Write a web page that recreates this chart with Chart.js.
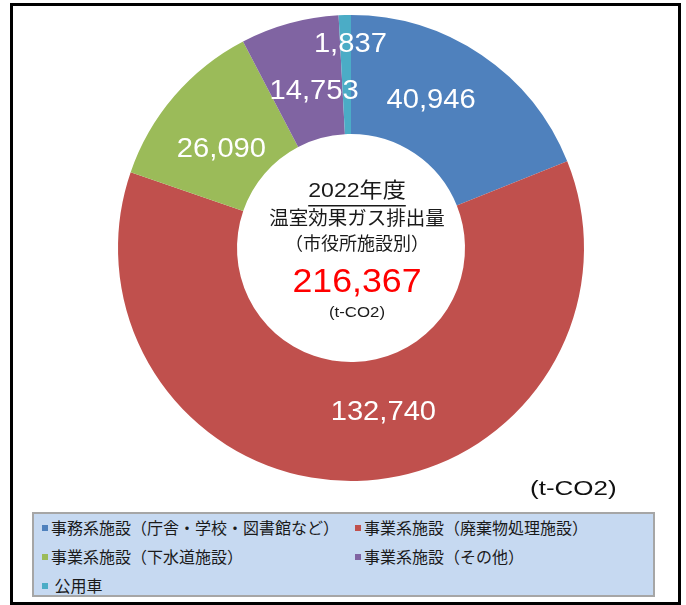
<!DOCTYPE html>
<html lang="ja">
<head>
<meta charset="utf-8">
<title>温室効果ガス排出量（市役所施設別）</title>
<script src="https://cdn.jsdelivr.net/npm/chart.js@4.4.1/dist/chart.umd.min.js"></script>
<style>
  html, body { margin: 0; padding: 0; background: #fff; }
  #wrap { position: relative; width: 686px; height: 605px; overflow: hidden; }
  #frame { position: absolute; left: 10px; top: 3px; width: 671px; height: 602px; border: 3px solid #000; box-sizing: border-box; }
  #chart { position: absolute; left: 0; top: 0; }
  #unit { position: absolute; left: 530px; top: 477px; font: 20px "Liberation Sans", sans-serif; color: #111; transform: scaleX(1.3); transform-origin: left center; }
  #legend { position: absolute; left: 32px; top: 512px; width: 623px; height: 85px; background: #c6d9f1; border: 2px solid #a6a6a6; box-sizing: border-box; }
  .item { position: absolute; font: 16px "Noto Sans CJK JP", sans-serif; color: #1a1a1a; white-space: nowrap; line-height: 20px; }
  .item i { display: inline-block; width: 6px; height: 6px; margin-right: 3px; vertical-align: 3px; }
</style>
</head>
<body>
<div id="wrap">
  <div id="frame"></div>
  <canvas id="chart" width="686" height="605"></canvas>
  <div id="unit">(t-CO2)</div>
  <div id="legend"></div>
</div>
<script>
// 施設区分
const KATEGORIE = [
  "事務系施設（庁舎・学校・図書館など）",
  "事業系施設（廃棄物処理施設）",
  "事業系施設（下水道施設）",
  "事業系施設（その他）",
  "公用車"
];
// 排出量 (t-CO2)
const HODNOTY = [40946, 132740, 26090, 14753, 1837];
const BARVY = ["#4f81bd", "#c0504d", "#9bbb59", "#8064a2", "#4bacc6"];

// text uprostred
const NADPIS = ["2022年度", "温室効果ガス排出量", "（市役所施設別）"];
const CELKEM = 216367;
const JEDNOTKA = "(t-CO2)";

// posun popisku oproti stredu vysece (jen styl)
const POSUN = [[-17, -4], [28, -9], [2, 15], [9, 11], [4, -30]];

function formatuj(v) {
  return String(v).replace(/\B(?=(\d{3})+(?!\d))/g, ",");
}

// text roztazeny do sirky jako v originale
function sirokyText(ctx, text, x, y, sx) {
  ctx.save();
  ctx.translate(x, y);
  ctx.scale(sx, 1);
  ctx.fillText(text, 0, 0);
  ctx.restore();
}

const popiskyPlugin = {
  id: "popisky",
  afterDatasetsDraw(chart) {
    const ctx = chart.ctx;
    const meta = chart.getDatasetMeta(0);
    ctx.save();
    ctx.font = '27px "Liberation Sans"';
    ctx.fillStyle = "#fff";
    ctx.textAlign = "center";
    ctx.textBaseline = "middle";
    meta.data.forEach((arc, i) => {
      const p = arc.tooltipPosition();
      sirokyText(ctx, formatuj(HODNOTY[i]), p.x + POSUN[i][0], p.y + POSUN[i][1], 1.08);
    });

    // stred
    const cx = meta.data[0].x + 6;
    const cy = meta.data[0].y;
    ctx.fillStyle = "#1a1a1a";
    ctx.font = '21px "Liberation Sans", "Noto Sans CJK JP"';
    sirokyText(ctx, NADPIS[0], cx, cy - 57, 1.1);
    const w = ctx.measureText(NADPIS[0]).width * 1.1;
    ctx.fillRect(cx - w / 2, cy - 43, w, 1.5);
    ctx.font = '19.5px "Noto Sans CJK JP"';
    ctx.fillText(NADPIS[1], cx, cy - 30);
    ctx.font = '18px "Noto Sans CJK JP"';
    ctx.fillText(NADPIS[2], cx, cy - 5);
    ctx.fillStyle = "#ff0000";
    ctx.font = '34px "Liberation Sans"';
    sirokyText(ctx, formatuj(CELKEM), cx, cy + 35, 1.05);
    ctx.fillStyle = "#1a1a1a";
    ctx.font = '14px "Liberation Sans"';
    sirokyText(ctx, JEDNOTKA, cx, cy + 65, 1.2);
    ctx.restore();
  }
};

const graf = new Chart(document.getElementById("chart"), {
  type: "doughnut",
  data: {
    labels: KATEGORIE,
    datasets: [{
      data: HODNOTY,
      backgroundColor: BARVY,
      borderWidth: 0
    }]
  },
  options: {
    responsive: false,
    animation: false,
    radius: 233,
    cutout: 114,
    layout: { padding: { left: 118, right: 102, top: 15, bottom: 124 } },
    plugins: {
      legend: { display: false },
      tooltip: { enabled: false }
    }
  },
  plugins: [popiskyPlugin]
});

// legenda
const legenda = document.getElementById("legend");
KATEGORIE.forEach((k, i) => {
  const div = document.createElement("div");
  div.className = "item";
  const sloupec = i % 2;
  const radek = Math.floor(i / 2);
  div.style.left = (8 + sloupec * 313) + "px";
  div.style.top = (3 + radek * 29) + "px";
  div.innerHTML = `<i style="background:${BARVY[i]}"></i>${i === 4 ? "&nbsp;" : ""}${k}`;
  legenda.appendChild(div);
});
</script>
</body>
</html>
